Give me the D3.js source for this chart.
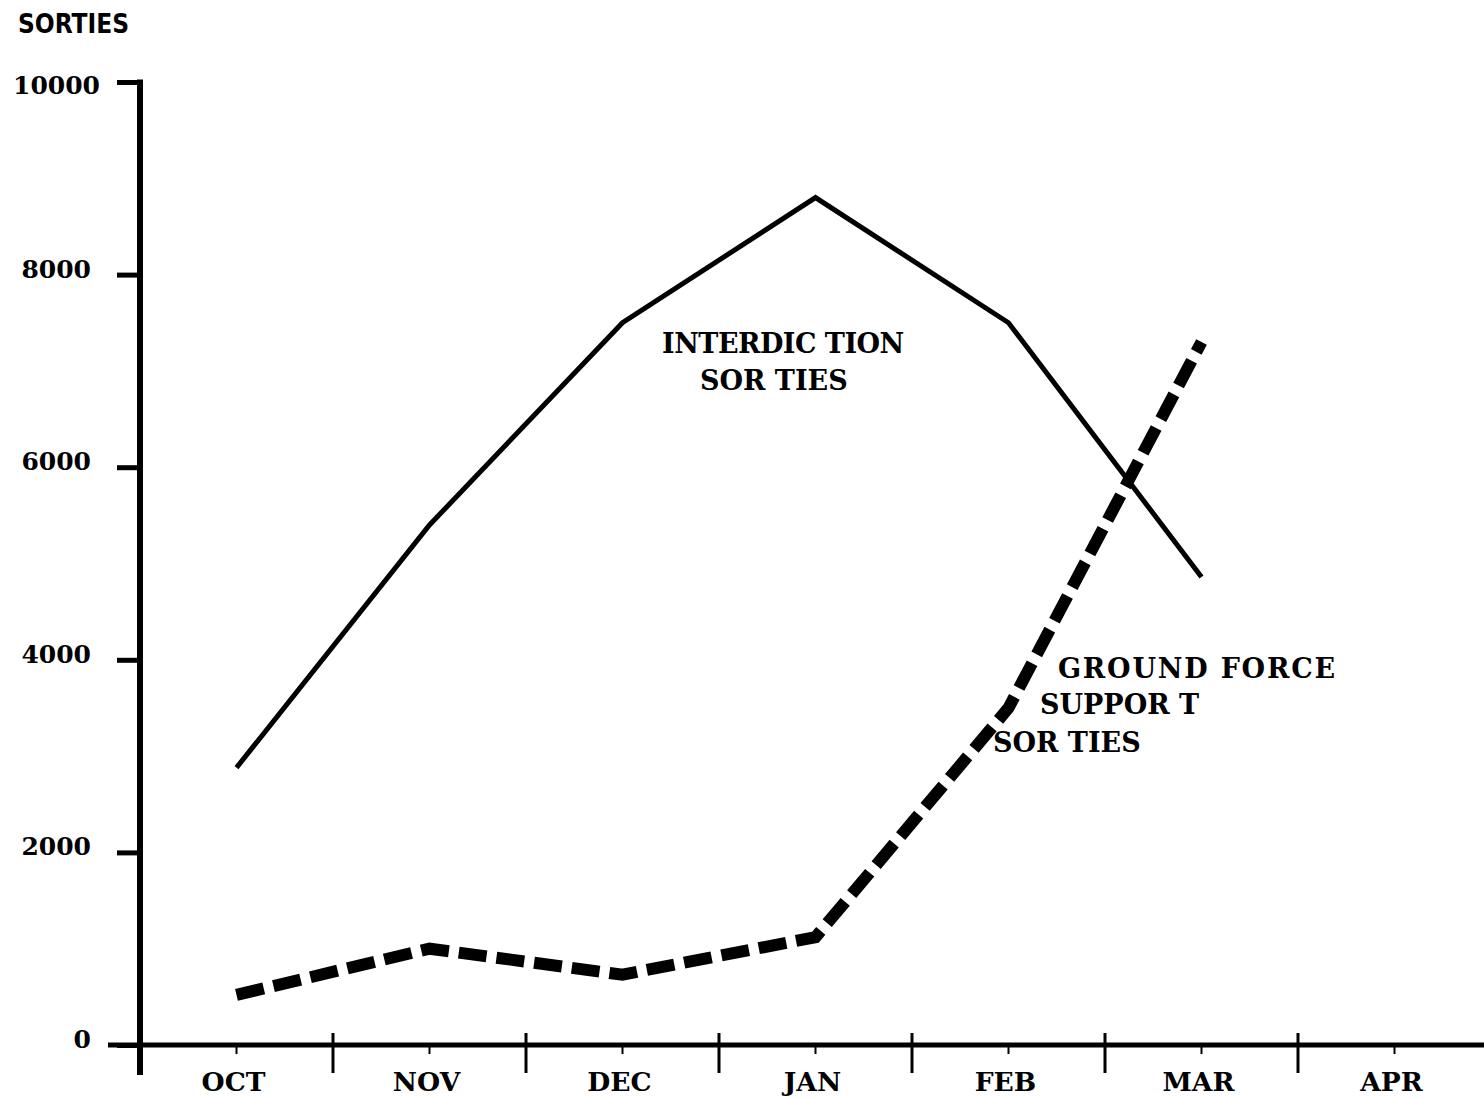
<!DOCTYPE html>
<html>
<head>
<meta charset="utf-8">
<script src="https://cdn.jsdelivr.net/npm/d3@7/dist/d3.min.js"></script>
<style>
  html, body { margin: 0; padding: 0; background: #fff; }
  svg { display: block; }
  text { fill: #000; }
</style>
</head>
<body>
<div id="chart"></div>
<script>
// ---- data ----
const months = ["OCT", "NOV", "DEC", "JAN", "FEB", "MAR", "APR"];
const dataMonths = ["OCT", "NOV", "DEC", "JAN", "FEB", "MAR"];
const interdiction = [2880, 5400, 7500, 8800, 7500, 4860];
const groundSupport = [520, 1000, 730, 1120, 3500, 7300];
const yTicks = [0, 2000, 4000, 6000, 8000, 10000];
const yTickLabels = ["0", "2000", "4000", "6000", "8000", "10000"];

const W = 1484, H = 1098;
const svg = d3.select("#chart").append("svg")
  .attr("width", W).attr("height", H);

const x = d3.scaleBand().domain(months).range([140, 1491]).padding(0);
const y = d3.scaleLinear().domain([0, 10000]).range([1045, 82]);
const cx = m => x(m) + x.bandwidth() / 2;

const serif = "'DejaVu Serif', 'Liberation Serif', serif";

// y axis line
svg.append("line")
  .attr("x1", 140).attr("x2", 140)
  .attr("y1", y(10000) - 2.5).attr("y2", y(0) + 30)
  .attr("stroke", "#000").attr("stroke-width", 6);

// y ticks
const yAxis = d3.axisLeft(y).tickValues(yTicks).tickSize(23).tickFormat("");
const gy = svg.append("g").attr("transform", "translate(140,0)").call(yAxis);
gy.select(".domain").remove();
gy.selectAll(".tick line").attr("stroke", "#000").attr("stroke-width", 5);

// y tick labels
svg.selectAll(".ylab").data(yTicks).enter().append("text")
  .attr("class", "ylab")
  .attr("x", (d, i) => i === 5 ? 100 : 91)
  .attr("y", d => y(d) + (d === 10000 ? 12 : 3))
  .attr("text-anchor", "end")
  .attr("font-family", serif).attr("font-weight", "bold")
  .attr("font-size", 25)
  .text((d, i) => yTickLabels[i]);

// x axis line
svg.append("line")
  .attr("x1", 108).attr("x2", W)
  .attr("y1", y(0)).attr("y2", y(0))
  .attr("stroke", "#000").attr("stroke-width", 5);

// x boundary ticks (crossing the axis)
const bounds = months.slice(1).map(m => x(m));
svg.selectAll(".xb").data(bounds).enter().append("line")
  .attr("x1", d => d).attr("x2", d => d)
  .attr("y1", y(0) - 12).attr("y2", y(0) + 28)
  .attr("stroke", "#000").attr("stroke-width", 3);

// small center ticks
svg.selectAll(".xc").data(months).enter().append("line")
  .attr("x1", d => cx(d)).attr("x2", d => cx(d))
  .attr("y1", y(0)).attr("y2", y(0) + 9)
  .attr("stroke", "#000").attr("stroke-width", 2);

// month labels
svg.selectAll(".mlab").data(months).enter().append("text")
  .attr("x", d => cx(d) - 3)
  .attr("y", 1091)
  .attr("text-anchor", "middle")
  .attr("font-family", serif).attr("font-weight", "bold")
  .attr("font-size", 26.5)
  .text(d => d);

// title
svg.append("text")
  .attr("x", 18).attr("y", 33)
  .attr("font-family", "'DejaVu Sans Condensed', 'DejaVu Sans', sans-serif")
  .attr("font-stretch", "condensed")
  .attr("font-weight", "bold").attr("font-size", 26)
  .text("SORTIES");

// lines
const line = d3.line().x(d => cx(d.m)).y(d => y(d.v));
const interPts = dataMonths.map((m, i) => ({ m, v: interdiction[i] }));
const groundPts = dataMonths.map((m, i) => ({ m, v: groundSupport[i] }));

svg.append("path").datum(interPts)
  .attr("d", line)
  .attr("fill", "none").attr("stroke", "#000")
  .attr("stroke-width", 5).attr("stroke-linejoin", "miter");

svg.append("path").datum(groundPts)
  .attr("d", line)
  .attr("fill", "none").attr("stroke", "#000")
  .attr("stroke-width", 12)
  .attr("stroke-dasharray", "28,10")
  .attr("stroke-linecap", "butt");

// annotation labels
const lab = (txt, xx, yy, ls) => svg.append("text")
  .attr("x", xx).attr("y", yy)
  .attr("font-family", serif).attr("font-weight", "bold")
  .attr("font-size", 27)
  .attr("letter-spacing", ls || 0)
  .text(txt);
lab("INTERDIC TION", 662, 353, -0.5);
lab("SOR TIES", 700, 390);
lab("GROUND FORCE", 1058, 678, 1.8);
lab("SUPPOR T", 1040, 714);
lab("SOR TIES", 993, 752);
</script>
</body>
</html>
